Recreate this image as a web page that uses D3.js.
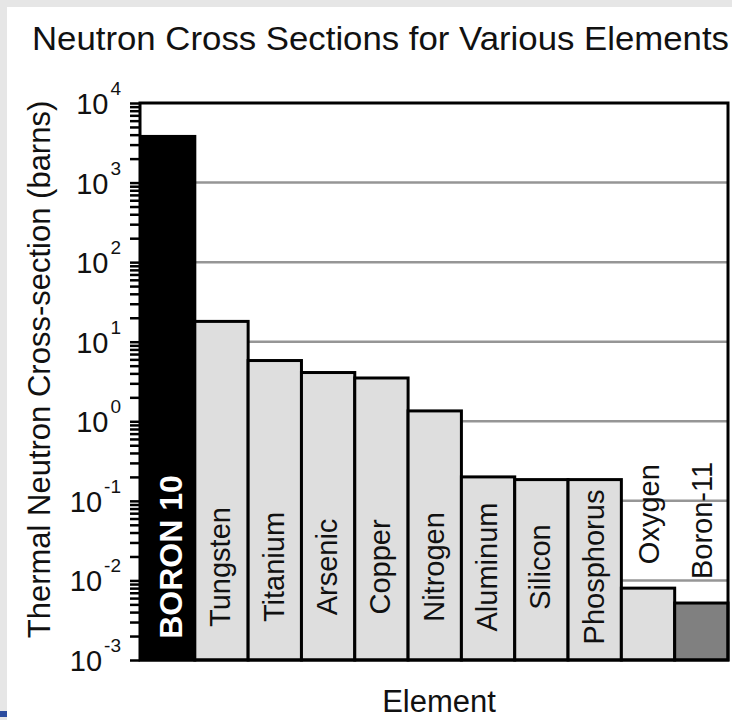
<!DOCTYPE html>
<html>
<head>
<meta charset="utf-8">
<script src="https://cdn.jsdelivr.net/npm/d3@7"></script>
<style>
  html, body { margin: 0; padding: 0; background: #fff; }
  svg { display: block; font-family: "Liberation Sans", Arial, Helvetica, sans-serif; }
</style>
</head>
<body>
<svg id="chart" width="732" height="720"></svg>
<script>
// Thermal neutron capture cross-sections (barns), one bar per element
const elements = ["BORON 10", "Tungsten", "Titanium", "Arsenic", "Copper", "Nitrogen",
                  "Aluminum", "Silicon", "Phosphorus", "Oxygen", "Boron-11"];
const crossSections = [3800, 18, 5.8, 4.1, 3.5, 1.35, 0.2, 0.185, 0.185, 0.008, 0.0052];

// Decade exponents used for the y tick labels (10^-3 .. 10^4)
const decadeExponents = [-3, -2, -1, 0, 1, 2, 3, 4];

const chartTitle = "Neutron Cross Sections for Various Elements";
const yAxisTitle = "Thermal Neutron Cross-section (barns)";
const xAxisTitle = "Element";

const W = 732, H = 720;
const plot = { left: 140, right: 728, top: 103, bottom: 660 };

const svg = d3.select("#chart");

// page surround
svg.append("rect").attr("x", 0).attr("y", 0).attr("width", W).attr("height", H).attr("fill", "#ffffff");
svg.append("rect").attr("x", 0).attr("y", 0).attr("width", W).attr("height", 7).attr("fill", "#e6e6e6");
svg.append("rect").attr("x", 0).attr("y", 0).attr("width", 7).attr("height", H).attr("fill", "#e6e6e6");
svg.append("rect").attr("x", 0).attr("y", 711).attr("width", 7).attr("height", 6).attr("fill", "#2b4c9e");

// scales
const x = d3.scaleBand().domain(elements).range([141.5, plot.right]).padding(0);
const y = d3.scaleLog()
  .domain([Math.pow(10, decadeExponents[0]), Math.pow(10, decadeExponents[decadeExponents.length - 1])])
  .range([plot.bottom, plot.top]);

const data = elements.map((name, i) => ({ name, value: crossSections[i] }));

function barFill(name) {
  if (name === "BORON 10") return "#000000";
  if (name === "Boron-11") return "#808080";
  return "#dedede";
}

// horizontal grid at inner decades
svg.append("g")
  .selectAll("line")
  .data(decadeExponents.slice(1, -1))
  .join("line")
  .attr("x1", plot.left)
  .attr("x2", plot.right)
  .attr("y1", e => y(Math.pow(10, e)))
  .attr("y2", e => y(Math.pow(10, e)))
  .attr("stroke", "#969696")
  .attr("stroke-width", 2.5);

// bars
svg.append("g")
  .selectAll("rect")
  .data(data)
  .join("rect")
  .attr("x", d => x(d.name))
  .attr("y", d => y(d.value))
  .attr("width", x.bandwidth())
  .attr("height", d => y.range()[0] - y(d.value))
  .attr("fill", d => barFill(d.name))
  .attr("stroke", "#000")
  .attr("stroke-width", 3);

// bar labels: inside tall bars, above short ones
const labelG = svg.append("g");
data.forEach(d => {
  const cx = x(d.name) + x.bandwidth() / 2;
  const inside = d.value >= 0.1;
  const hero = d.name === "BORON 10";
  const t = labelG.append("text")
    .attr("font-size", hero ? 32 : 29)
    .attr("font-weight", hero ? "bold" : "normal")
    .attr("fill", hero ? "#ffffff" : "#111111")
    .text(d.name);
  if (inside) {
    const cy = hero ? 557 : 567;
    t.attr("text-anchor", "middle")
     .attr("transform", `translate(${cx + (hero ? 14 : 9)},${cy}) rotate(-90)`);
  } else {
    t.attr("text-anchor", "start")
     .attr("transform", `translate(${cx + 11},${y(d.value) - 24}) rotate(-90)`);
  }
});

// plot frame
svg.append("rect")
  .attr("x", plot.left)
  .attr("y", plot.top)
  .attr("width", plot.right - plot.left)
  .attr("height", plot.bottom - plot.top)
  .attr("fill", "none")
  .attr("stroke", "#000")
  .attr("stroke-width", 3);

// y axis ticks: every decade plus 2..9 minor ticks
const tickValues = [];
decadeExponents.forEach((e, i) => {
  tickValues.push(Math.pow(10, e));
  if (i < decadeExponents.length - 1) {
    for (let m = 2; m <= 9; m++) tickValues.push(m * Math.pow(10, e));
  }
});
const yAxis = d3.axisLeft(y).tickValues(tickValues).tickSize(10).tickFormat(() => "");
const axisG = svg.append("g").attr("transform", `translate(${plot.left},0)`).call(yAxis);
axisG.select(".domain").remove();
axisG.selectAll(".tick line").attr("stroke", "#000").attr("stroke-width", 2.5);

// y tick labels as 10 with superscript exponent
const yLab = svg.append("g")
  .selectAll("text")
  .data(decadeExponents)
  .join("text")
  .attr("x", 121)
  .attr("y", e => y(Math.pow(10, e)) + 11)
  .attr("text-anchor", "end")
  .attr("fill", "#111");
yLab.append("tspan").attr("font-size", 29).text("10");
yLab.append("tspan").attr("font-size", 19).attr("dx", 2).attr("dy", -19)
  .text(e => (e < 0 ? "-" + Math.abs(e) : String(e)));

// titles
svg.append("text")
  .attr("x", 32).attr("y", 50)
  .attr("font-size", 34)
  .attr("fill", "#111")
  .attr("textLength", 697)
  .attr("lengthAdjust", "spacingAndGlyphs")
  .text(chartTitle);

svg.append("text")
  .attr("transform", "translate(50,369.5) rotate(-90)")
  .attr("text-anchor", "middle")
  .attr("font-size", 31)
  .attr("fill", "#111")
  .text(yAxisTitle);

svg.append("text")
  .attr("x", 439).attr("y", 712)
  .attr("text-anchor", "middle")
  .attr("font-size", 31)
  .attr("fill", "#111")
  .text(xAxisTitle);
</script>
</body>
</html>
